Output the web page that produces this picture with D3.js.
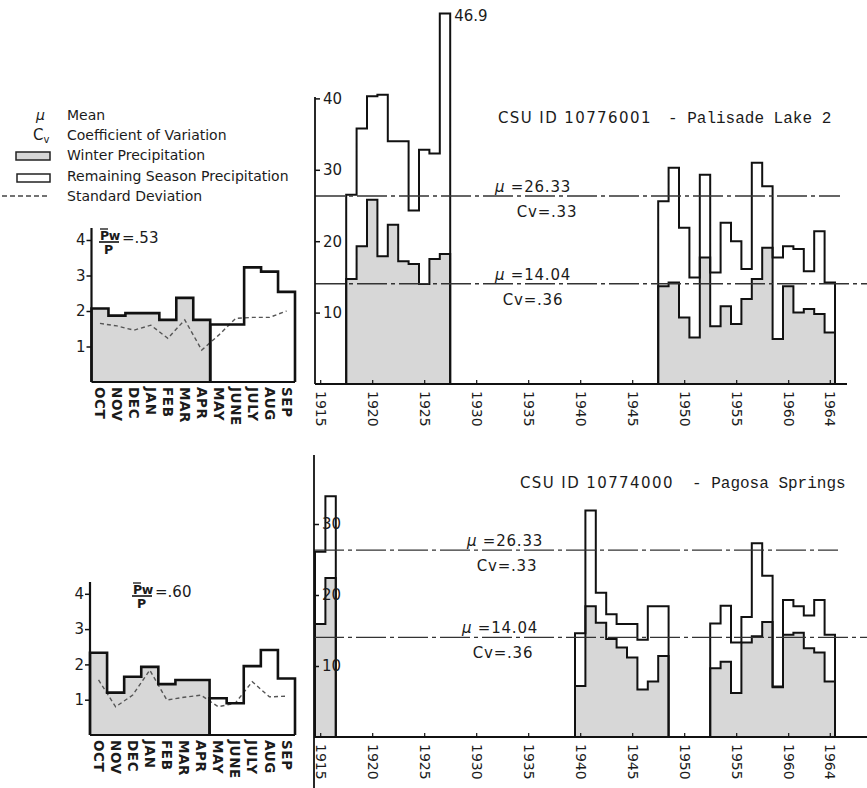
<!DOCTYPE html>
<html>
<head>
<meta charset="utf-8">
<script src="https://cdn.jsdelivr.net/npm/d3@7"></script>
<style>
  body { margin: 0; background: #fff; }
  svg text { font-family: "DejaVu Sans", sans-serif; fill: #1b1b1b; }
  svg .mono { font-family: "Liberation Mono", "DejaVu Sans Mono", monospace; }
</style>
</head>
<body>
<svg width="867" height="788"></svg>
<script>
// ---- monthly means (inches) ----
const months = ["OCT", "NOV", "DEC", "JAN", "FEB", "MAR", "APR", "MAY", "JUNE", "JULY", "AUG", "SEP"];
const winterMonthCount = 7; // OCT..APR

const palisadeMonthly = [2.07, 1.87, 1.94, 1.94, 1.75, 2.37, 1.75, 1.62, 1.62, 3.23, 3.11, 2.54];
const palisadeMonthlySd = [1.65, 1.58, 1.46, 1.6, 1.23, 1.75, 0.9, 1.32, 1.79, 1.82, 1.82, 2.0];
const pagosaMonthly = [2.33, 1.2, 1.65, 1.93, 1.44, 1.56, 1.56, 1.04, 0.9, 1.95, 2.41, 1.6];
const pagosaMonthlySd = [1.56, 0.8, 1.13, 1.84, 0.99, 1.07, 1.13, 0.8, 0.9, 1.51, 1.08, 1.1];
const palisadeRatio = ".53";
const pagosaRatio = ".60";
const monthTicks = [1, 2, 3, 4];

// ---- yearly totals and winter part (inches) ----
const palisadeYearsA = [1918, 1919, 1920, 1921, 1922, 1923, 1924, 1925, 1926, 1927];
// last bar is drawn off scale in the original, labelled 46.9
const palisadeTotalA = [26.5, 35.8, 40.3, 40.5, 34.0, 34.0, 24.3, 32.8, 32.3, 51.9];
const palisadeWinterA = [14.7, 19.3, 25.8, 17.9, 22.3, 17.2, 16.8, 14.0, 17.5, 18.2];
const palisadeYearsB = [1948, 1949, 1950, 1951, 1952, 1953, 1954, 1955, 1956, 1957, 1958, 1959, 1960, 1961, 1962, 1963, 1964];
const palisadeTotalB = [25.6, 30.3, 21.9, 14.9, 29.3, 15.6, 22.6, 20.0, 16.1, 31.0, 27.7, 17.7, 19.3, 18.9, 15.8, 21.4, 14.2];
const palisadeWinterB = [13.7, 14.2, 9.3, 6.5, 17.7, 8.1, 10.9, 8.4, 11.9, 14.7, 19.1, 6.3, 13.7, 10.0, 10.5, 9.8, 7.2];
const palisadePeakLabel = "46.9";

const pagosaYearsA = [1915, 1916];
const pagosaTotalA = [26.1, 33.9];
const pagosaWinterA = [15.9, 22.4];
const pagosaYearsB = [1940, 1941, 1942, 1943, 1944, 1945, 1946, 1947, 1948];
const pagosaTotalB = [14.6, 31.9, 20.3, 17.3, 15.9, 15.9, 13.7, 18.4, 18.4];
const pagosaWinterB = [7.2, 18.4, 16.1, 13.8, 12.6, 11.2, 6.7, 7.8, 11.4];
const pagosaYearsC = [1953, 1954, 1955, 1956, 1957, 1958, 1959, 1960, 1961, 1962, 1963, 1964];
const pagosaTotalC = [16.0, 18.5, 13.3, 16.9, 27.3, 22.7, 7.1, 19.3, 18.4, 17.1, 19.3, 14.4];
const pagosaWinterC = [9.7, 10.6, 6.2, 13.3, 14.2, 16.2, 7.0, 14.4, 14.7, 12.5, 11.9, 7.8];

const meanValues = [26.33, 14.04];
const cvLabels = [".33", ".36"];
const yearTicks = [1915, 1920, 1925, 1930, 1935, 1940, 1945, 1950, 1955, 1960, 1964];
const palisadeTicks = [10, 20, 30, 40];
const pagosaTicks = [10, 20, 30];

const svg = d3.select("svg");
const shade = "#d7d7d7";

// ---------------- legend ----------------
const legend = svg.append("g");
legend.append("text").attr("x", 36).attr("y", 120).style("font-size", "14px").style("font-style", "italic").text("μ");
legend.append("text").attr("x", 67).attr("y", 120).style("font-size", "14px").text("Mean");
legend.append("text").attr("x", 33).attr("y", 140).style("font-size", "15px")
  .text("C").append("tspan").attr("dy", 3).style("font-size", "10px").text("v");
legend.append("text").attr("x", 67).attr("y", 140).style("font-size", "14px").text("Coefficient of Variation");
legend.append("rect").attr("x", 16).attr("y", 152).attr("width", 34).attr("height", 8)
  .attr("fill", shade).attr("stroke", "#222").attr("stroke-width", 1.5);
legend.append("text").attr("x", 67).attr("y", 160).style("font-size", "14px").text("Winter Precipitation");
legend.append("rect").attr("x", 17).attr("y", 174).attr("width", 33).attr("height", 8)
  .attr("fill", "#fff").attr("stroke", "#222").attr("stroke-width", 1.5);
legend.append("text").attr("x", 67).attr("y", 181).style("font-size", "14px").text("Remaining Season Precipitation");
legend.append("line").attr("x1", 2).attr("x2", 50).attr("y1", 196).attr("y2", 196)
  .attr("stroke", "#444").attr("stroke-width", 1.3).attr("stroke-dasharray", "5,3");
legend.append("text").attr("x", 67).attr("y", 201).style("font-size", "14px").text("Standard Deviation");

// ---------------- yearly panels ----------------
const xYear = d3.scaleLinear().domain([1915, 1965]).range([315, 835]);
const xYearMid = d3.scaleLinear().domain([1914.5, 1964.5]).range([315, 835]);

function stepPoints(years, vals) {
  const pts = years.map((yr, i) => [yr, vals[i]]);
  pts.push([years[years.length - 1] + 1, vals[vals.length - 1]]);
  return pts;
}
function closeToBase(pts) {
  return [[pts[0][0], 0], ...pts, [pts[pts.length - 1][0], 0]];
}

function drawRun(g, x, y, years, total, winter, width) {
  const wPts = stepPoints(years, winter);
  const area = d3.area().curve(d3.curveStepAfter)
    .x(d => x(d[0])).y0(y(0)).y1(d => y(d[1]));
  g.append("path").attr("d", area(wPts)).attr("fill", shade);
  const line = d3.line().curve(d3.curveStepAfter).x(d => x(d[0])).y(d => y(d[1]));
  g.append("path").attr("d", line(closeToBase(wPts)))
    .attr("fill", "none").attr("stroke", "#111").attr("stroke-width", width);
  g.append("path").attr("d", line(closeToBase(stepPoints(years, total))))
    .attr("fill", "none").attr("stroke", "#111").attr("stroke-width", width);
}

function drawYearPanel(cfg) {
  const g = svg.append("g");
  const y = cfg.y;
  cfg.runs.forEach(r => drawRun(g, xYear, y, r[0], r[1], r[2], 2));

  // mean lines with mu / Cv labels
  meanValues.forEach((m, i) => {
    g.append("line").attr("x1", cfg.axisX).attr("x2", cfg.meanEnds[i])
      .attr("y1", y(m)).attr("y2", y(m))
      .attr("stroke", "#333").attr("stroke-width", 1.3).attr("stroke-dasharray", "30,4,4,4");
    const t = g.append("text").attr("x", cfg.muX[i]).attr("y", y(m) - 4)
      .attr("text-anchor", "middle").style("font-size", "15px").style("letter-spacing", "0.8px");
    t.append("tspan").style("font-style", "italic").text("μ");
    t.append("tspan").text(" =" + m.toFixed(2));
    g.append("text").attr("x", cfg.cvX[i]).attr("y", y(m) + 21)
      .attr("text-anchor", "middle").style("font-size", "15px").style("letter-spacing", "0.8px")
      .text("Cv=" + cvLabels[i]);
  });

  // axes
  g.append("line").attr("x1", cfg.axisX).attr("x2", cfg.axisX)
    .attr("y1", cfg.axisTop).attr("y2", cfg.axisBottom).attr("stroke", "#111").attr("stroke-width", 1.8);
  g.append("line").attr("x1", cfg.axisX).attr("x2", cfg.baseEnd)
    .attr("y1", y(0)).attr("y2", y(0)).attr("stroke", "#111").attr("stroke-width", 1.8);

  const ya = g.append("g").attr("transform", `translate(${cfg.axisX},0)`)
    .call(d3.axisRight(y).tickValues(cfg.ticks).tickSize(5).tickFormat(d3.format("d")));
  ya.select(".domain").remove();
  ya.selectAll("line").attr("stroke", "#111").attr("stroke-width", 1.5);
  ya.selectAll("text").attr("x", 8).style("font-size", "15px").style("font-family", "DejaVu Sans").attr("fill", "#1b1b1b");

  const xa = g.append("g").attr("transform", `translate(0,${y(0)})`)
    .call(d3.axisBottom(xYearMid).tickValues(yearTicks).tickSize(-4).tickFormat(d3.format("d")));
  xa.select(".domain").remove();
  xa.selectAll("line").attr("stroke", "#111").attr("stroke-width", 1.2);
  xa.selectAll("text")
    .attr("transform", "rotate(90)").attr("x", 7).attr("y", 0).attr("dy", "0.36em")
    .attr("text-anchor", "start").style("font-size", "14px")
    .style("font-family", "DejaVu Sans").attr("fill", "#1b1b1b");

  // station title
  g.append("text").attr("x", cfg.titleX).attr("y", cfg.titleY)
    .style("font-size", "15px").style("letter-spacing", "1.4px").text(cfg.id);
  g.append("text").attr("class", "mono").attr("x", cfg.nameX).attr("y", cfg.titleY)
    .style("font-size", "16px").text(cfg.name);
  return g;
}

const yTop = d3.scaleLinear().domain([0, 40]).range([384, 98.4]);
const yBot = d3.scaleLinear().domain([0, 40]).range([737, 453]);

const topPanel = drawYearPanel({
  y: yTop, ticks: palisadeTicks,
  runs: [[palisadeYearsA, palisadeTotalA, palisadeWinterA], [palisadeYearsB, palisadeTotalB, palisadeWinterB]],
  axisX: 315, axisTop: 97, axisBottom: 384, baseEnd: 847,
  meanEnds: [840, 867], muX: [533, 533], cvX: [547, 533],
  id: "CSU ID 10776001", name: "- Palisade Lake 2", titleX: 498, nameX: 668, titleY: 123
});
topPanel.append("text")
  .attr("x", xYear(palisadeYearsA[palisadeYearsA.length - 1] + 1) + 4)
  .attr("y", yTop(palisadeTotalA[palisadeTotalA.length - 1]) + 8)
  .style("font-size", "15px").text(palisadePeakLabel);

drawYearPanel({
  y: yBot, ticks: pagosaTicks,
  runs: [[pagosaYearsA, pagosaTotalA, pagosaWinterA], [pagosaYearsB, pagosaTotalB, pagosaWinterB],
         [pagosaYearsC, pagosaTotalC, pagosaWinterC]],
  axisX: 314, axisTop: 455, axisBottom: 788, baseEnd: 867,
  meanEnds: [838, 867], muX: [505, 500], cvX: [507, 503],
  id: "CSU ID 10774000", name: "- Pagosa Springs", titleX: 520, nameX: 692, titleY: 488
});

// ---------------- monthly panels ----------------
function drawMonthPanel(cfg) {
  const g = svg.append("g");
  const x = d3.scaleLinear().domain([0, 12]).range(cfg.xRange);
  const y = d3.scaleLinear().domain([0, 4]).range(cfg.yRange);
  const idx = months.map((m, i) => i);
  const winterIdx = idx.slice(0, winterMonthCount);
  const restIdx = idx.slice(winterMonthCount);

  const wPts = stepPoints(winterIdx, winterIdx.map(i => cfg.values[i]));
  const rPts = stepPoints(restIdx, restIdx.map(i => cfg.values[i]));
  const area = d3.area().curve(d3.curveStepAfter).x(d => x(d[0])).y0(y(0)).y1(d => y(d[1]));
  g.append("path").attr("d", area(wPts)).attr("fill", shade);

  const sd = d3.line().x((d, i) => x(i + 0.5)).y(d => y(d));
  g.append("path").attr("d", sd(cfg.sd)).attr("fill", "none")
    .attr("stroke", "#555").attr("stroke-width", 1.4).attr("stroke-dasharray", "4,3");

  const line = d3.line().curve(d3.curveStepAfter).x(d => x(d[0])).y(d => y(d[1]));
  [wPts, rPts].forEach(p => {
    g.append("path").attr("d", line(closeToBase(p))).attr("fill", "none")
      .attr("stroke", "#111").attr("stroke-width", 2.6);
  });

  g.append("line").attr("x1", x(0)).attr("x2", x(0)).attr("y1", cfg.axisTop).attr("y2", y(0))
    .attr("stroke", "#111").attr("stroke-width", 2.2);
  g.append("line").attr("x1", x(0)).attr("x2", x(12)).attr("y1", y(0)).attr("y2", y(0))
    .attr("stroke", "#111").attr("stroke-width", 2.2);

  const ya = g.append("g").attr("transform", `translate(${x(0)},0)`)
    .call(d3.axisLeft(y).tickValues(monthTicks).tickSize(5).tickFormat(d3.format("d")));
  ya.select(".domain").remove();
  ya.selectAll("line").attr("stroke", "#111").attr("stroke-width", 1.5);
  ya.selectAll("text").attr("x", -6).style("font-size", "15px")
    .style("font-family", "DejaVu Sans").attr("fill", "#1b1b1b");

  g.selectAll("text.month").data(months).join("text").attr("class", "month")
    .attr("transform", (d, i) => `translate(${x(i + 0.5)},${y(0) + 5}) rotate(90)`)
    .attr("dy", "0.36em").style("font-size", "13.5px").style("font-weight", "bold")
    .style("letter-spacing", "0.6px").text(d => d);

  // Pw / P ratio
  const fx = cfg.fracX, fy = cfg.fracY;
  g.append("text").attr("x", fx + 1).attr("y", fy - 2).style("font-size", "12.5px")
    .style("font-weight", "bold").style("letter-spacing", "-0.3px").text("Pw");
  g.append("line").attr("x1", fx + 1).attr("x2", fx + 9).attr("y1", fy - 13).attr("y2", fy - 13)
    .attr("stroke", "#111").attr("stroke-width", 1.3);
  g.append("line").attr("x1", fx).attr("x2", fx + 20).attr("y1", fy).attr("y2", fy)
    .attr("stroke", "#111").attr("stroke-width", 1.6);
  g.append("text").attr("x", fx + 5).attr("y", fy + 12).style("font-size", "12.5px").style("font-weight", "bold").text("P");
  g.append("text").attr("x", fx + 23).attr("y", fy + 1).style("font-size", "15px").text("=" + cfg.ratio);
}

drawMonthPanel({
  values: palisadeMonthly, sd: palisadeMonthlySd, ratio: palisadeRatio,
  xRange: [91.5, 295], yRange: [382, 240], axisTop: 228, fracX: 99, fracY: 242
});
drawMonthPanel({
  values: pagosaMonthly, sd: pagosaMonthlySd, ratio: pagosaRatio,
  xRange: [90, 295], yRange: [735, 593.8], axisTop: 582, fracX: 132, fracY: 596
});
</script>
</body>
</html>
